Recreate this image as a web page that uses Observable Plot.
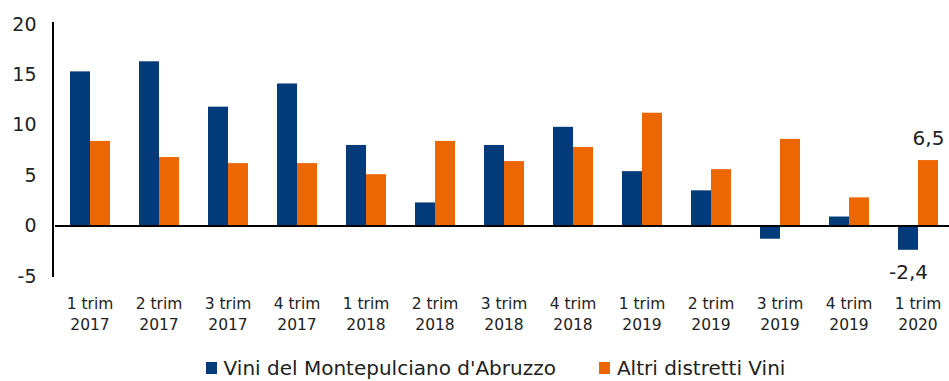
<!DOCTYPE html>
<html>
<head>
<meta charset="utf-8">
<script src="https://cdn.jsdelivr.net/npm/d3@7"></script>
<script src="https://cdn.jsdelivr.net/npm/@observablehq/plot@0.6"></script>
<style>
  html, body { margin: 0; padding: 0; background: #fff; overflow: hidden; }
  body { font-family: "DejaVu Sans", sans-serif; color: #222; }
  #legend { display: flex; justify-content: center; align-items: center; gap: 43px; font-size: 20px; margin-top: 16px; padding-left: 42px; }
  #legend .item { display: flex; align-items: center; gap: 7px; }
  #legend .sw { width: 11px; height: 12px; display: inline-block; }
</style>
</head>
<body>
<div id="chart"></div>
<div id="legend"></div>
<script>
const quarters = ["1 trim\n2017","2 trim\n2017","3 trim\n2017","4 trim\n2017","1 trim\n2018","2 trim\n2018","3 trim\n2018","4 trim\n2018","1 trim\n2019","2 trim\n2019","3 trim\n2019","4 trim\n2019","1 trim\n2020"];
const seriesNames = ["Vini del Montepulciano d'Abruzzo", "Altri distretti Vini"];
const montepulciano = [15.3, 16.3, 11.8, 14.1, 8.0, 2.3, 8.0, 9.8, 5.4, 3.5, -1.3, 0.9, -2.4];
const altri = [8.4, 6.8, 6.2, 6.2, 5.1, 8.4, 6.4, 7.8, 11.2, 5.6, 8.6, 2.8, 6.5];
const colors = ["#033b7a", "#ec6602"];
const yTicks = [-5, 0, 5, 10, 15, 20];
const labeledQuarter = "1 trim\n2020";

const data = [];
quarters.forEach((q, i) => {
  data.push({q, s: seriesNames[0], v: montepulciano[i]});
  data.push({q, s: seriesNames[1], v: altri[i]});
});
const fmt = v => String(v).replace(".", ",");

const plot = Plot.plot({
  width: 949,
  height: 340,
  marginLeft: 53,
  marginRight: -4,
  marginTop: 24,
  marginBottom: 64,
  style: {fontFamily: "DejaVu Sans, sans-serif", color: "#222", background: "#fff"},
  facet: {data, x: "q"},
  fx: {domain: quarters, padding: 0, label: null},
  x: {domain: seriesNames, paddingInner: 0, paddingOuter: 0.72, axis: null},
  y: {domain: [-5, 20], label: null},
  color: {domain: seriesNames, range: colors},
  marks: [
    Plot.barY(data, {x: "s", y: "v", fill: "s"}),
    Plot.ruleY([0], {stroke: "#000", strokeWidth: 2}),
    Plot.text(data, {filter: d => d.q === labeledQuarter && d.v > 0, x: "s", y: "v", text: d => fmt(d.v), dy: -22, fontSize: 20, fill: "#222"}),
    Plot.text(data, {filter: d => d.q === labeledQuarter && d.v < 0, x: "s", y: "v", text: d => fmt(d.v), dy: 22, fontSize: 20, fill: "#222"}),
    Plot.axisY({ticks: yTicks, tickFormat: d => String(d), tickSize: 0, tickPadding: 19, fontSize: 19, label: null}),
    Plot.axisFx({anchor: "bottom", tickSize: 0, tickPadding: 18, fontSize: 15.5, lineHeight: 1.33, label: null})
  ]
});
document.getElementById("chart").appendChild(plot);

// y axis line drawn from the plot's own y scale
const ys = plot.scale("y");
d3.select(plot).append("line")
  .attr("x1", 53).attr("x2", 53)
  .attr("y1", ys.apply(20) - 2).attr("y2", ys.apply(-5) + 1)
  .attr("stroke", "#000").attr("stroke-width", 2);

const legend = d3.select("#legend");
seriesNames.forEach((s, i) => {
  const it = legend.append("div").attr("class", "item");
  it.append("span").attr("class", "sw").style("background", colors[i]);
  it.append("span").text(s);
});
</script>
</body>
</html>
